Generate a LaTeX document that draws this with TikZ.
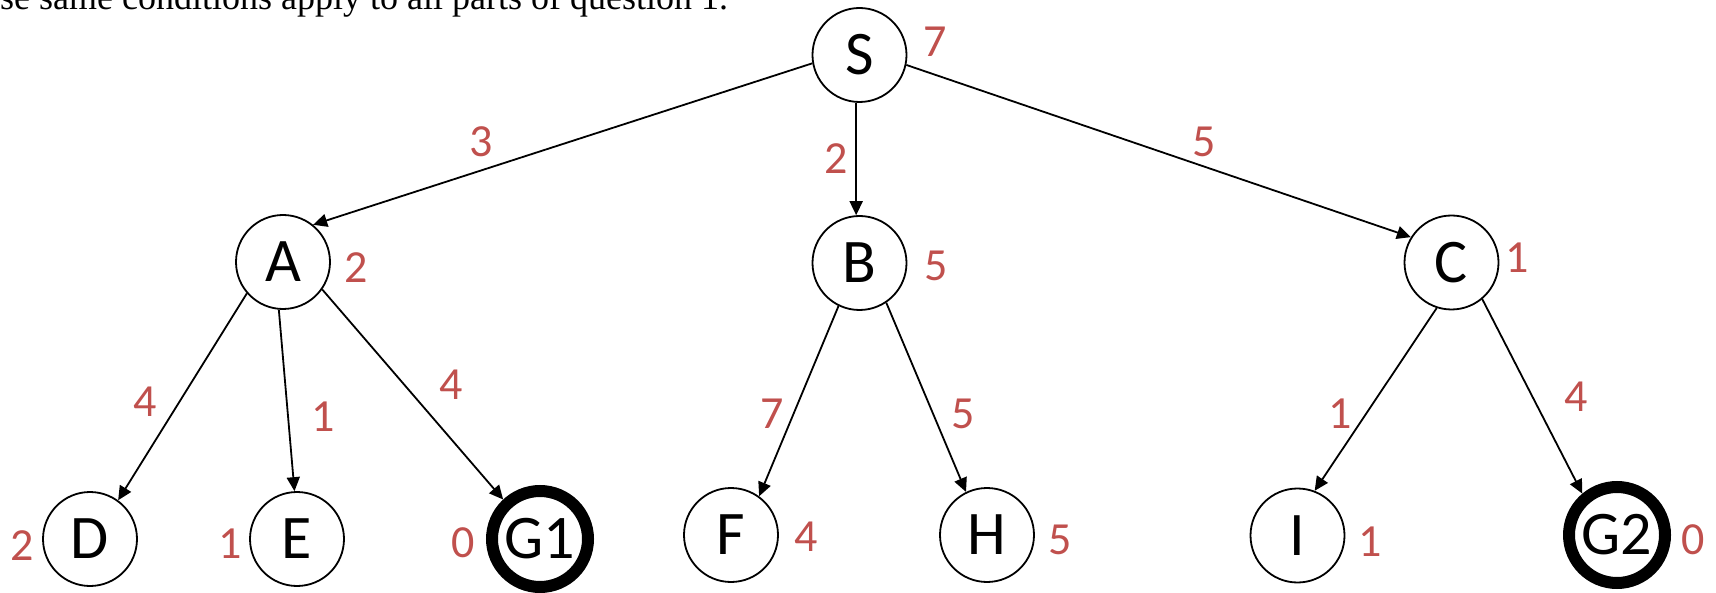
\documentclass[tikz,border=0pt]{standalone}
\usepackage{fontspec}
\newfontfamily\carlitofont{Carlito}
\newfontfamily\timesfont{Liberation Serif}
\usetikzlibrary{arrows.meta}
\definecolor{lbl}{RGB}{192,80,77}
\begin{document}
\begin{tikzpicture}[x=1pt,y=-1pt,
  st/.style={circle,draw,line width=1.8pt,minimum size=94pt,inner sep=0pt,
    font=\carlitofont\fontsize{62}{62}\selectfont},
  goal/.style={st,line width=12pt,minimum size=96pt},
  hv/.style={text=lbl,font=\carlitofont\fontsize{46}{46}\selectfont,inner sep=0pt},
  edge/.style={line width=1.8pt,-{Triangle[length=14pt,width=13pt]}}]
\useasboundingbox (0,0) rectangle (1716,593);
\node[anchor=base west,inner sep=0pt,font=\timesfont\fontsize{36}{36}\selectfont] (top) at (0,10) {se same conditions apply to all parts of question 1.};
% nodes
\node[st] (S) at (859.5,55) {S};
\node[st] (A) at (283,262) {A};
\node[st] (B) at (859.5,263) {B};
\node[st] (C) at (1451.5,262.5) {C};
\node[st] (D) at (90,539) {D};
\node[st] (E) at (297,539) {E};
\node[goal] (G1) at (540,539) {G1};
\node[st] (F) at (731,535) {F};
\node[st] (H) at (987,535) {H};
\node[st] (I) at (1297.5,535.5) {I};
\node[goal] (G2) at (1617,535) {G2};
% heuristic values
\node[hv] (hS) at (935.5,42) {7};
\node[hv] (hA) at (356,268) {2};
\node[hv] (hB) at (936,266) {5};
\node[hv] (hC) at (1517,258) {1};
\node[hv] (hD) at (22,546) {2};
\node[hv] (hE) at (230,544) {1};
\node[hv] (hG1) at (463,543) {0};
\node[hv] (hF) at (806,537) {4};
\node[hv] (hH) at (1060,540) {5};
\node[hv] (hI) at (1370.5,542) {1};
\node[hv] (hG2) at (1693,540) {0};
% edges
\draw[edge] (S.190) -- (A.51);
\draw[edge] (S.266) -- (B.94);
\draw[edge] (S.348) -- (C.148);
\draw[edge] (A.221) -- (D.54);
\draw[edge] (A.265) -- (E.93);
\draw[edge] (A.325) -- (G1.133);
\draw[edge] (B.244) -- (F.54);
\draw[edge] (B.304) -- (H.116);
\draw[edge] (C.252) -- (I.69);
\draw[edge] (C.310) -- (G2.130);
% edge costs
\node[hv] (cSA) at (481.5,142) {3};
\node[hv] (cSB) at (836,159) {2};
\node[hv] (cSC) at (1204,142) {5};
\node[hv] (cAD) at (145.5,401.5) {4};
\node[hv] (cAE) at (323,417) {1};
\node[hv] (cAG) at (451,385) {4};
\node[hv] (cBF) at (772.5,413.5) {7};
\node[hv] (cBH) at (963,413.5) {5};
\node[hv] (cCI) at (1340.5,413.5) {1};
\node[hv] (cCG) at (1576,397) {4};
\end{tikzpicture}
\end{document}
